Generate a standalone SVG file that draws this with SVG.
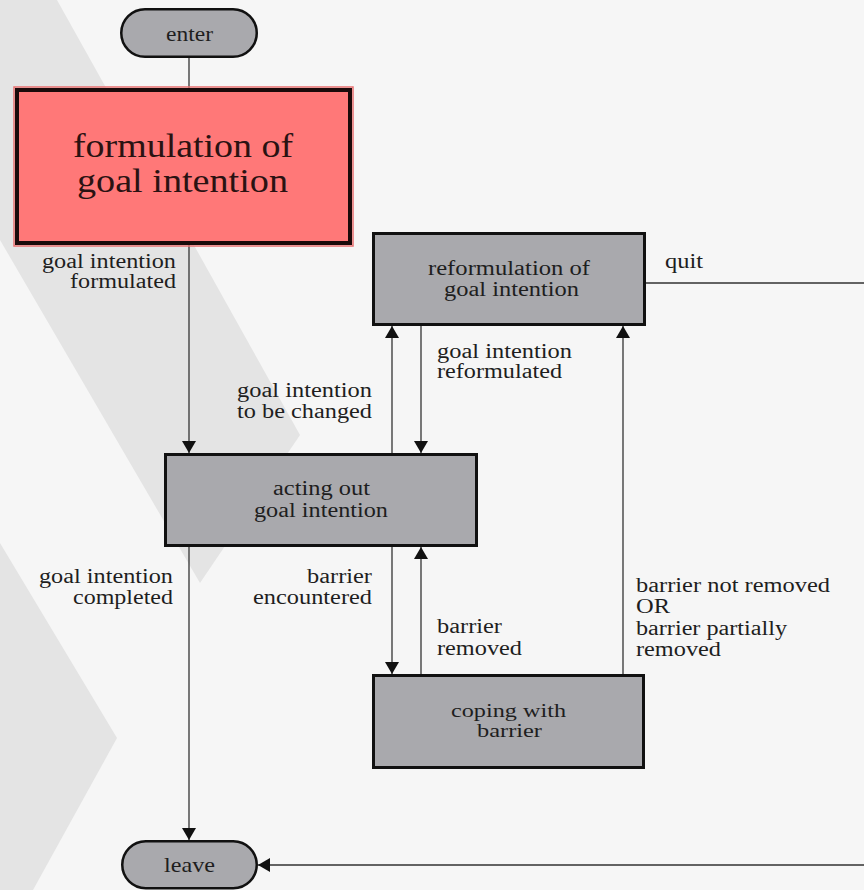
<svg xmlns="http://www.w3.org/2000/svg" width="864" height="890" viewBox="0 0 864 890" font-family="'Liberation Serif', Tinos, 'Times New Roman', Times, serif">
  <defs>
    <marker id="arrow" markerUnits="userSpaceOnUse" markerWidth="14" markerHeight="14" viewBox="0 0 12 14" refX="12" refY="7" orient="auto">
      <path d="M0,0 L12,7 L0,14 Z" fill="#111"/>
    </marker>
    <style>
      .bg { fill: #f6f6f6; }
      .deco { fill: #e4e4e4; }
      .state { fill: #a9a9ad; stroke: #111; stroke-width: 3; }
      .pill { fill: #a9a9ad; stroke: #111; stroke-width: 2.5; }
      .goal { fill: #ff7878; stroke: #1a0a0a; stroke-width: 4; }
      .wire { fill: none; stroke: #333; stroke-width: 1.3; }
      .arr { marker-end: url(#arrow); }
      text { font-family: 'Liberation Serif', Tinos, 'Times New Roman', Times, serif; font-size: 20px; fill: #1e1e1e; }
      .big { font-size: 34px; fill: #2a1212; }
      .term { font-size: 21px; }
      .tight { font-size: 19px; }
    </style>
  </defs>

  <!-- backdrop with decorative chevrons -->
  <rect class="bg" x="0" y="0" width="864" height="890"/>
  <polygon class="deco" points="0,0 57,0 300,435 200,583 0,240"/>
  <polygon class="deco" points="0,543 117,738 33,890 0,890"/>

  <!-- transitions -->
  <g id="connectors">
    <path class="wire" d="M189,58 V88"/>
    <path class="wire arr" d="M189,245 V453"/>
    <path class="wire arr" d="M392,453 V326"/>
    <path class="wire arr" d="M421,326 V453"/>
    <path class="wire arr" d="M392,547 V674"/>
    <path class="wire arr" d="M421,674 V547"/>
    <path class="wire arr" d="M623,674 V326"/>
    <path class="wire arr" d="M189,547 V840"/>
    <path class="wire arr" d="M646,283 H880 V865 H258"/>
  </g>

  <!-- transition labels -->
  <g id="labels">
    <text x="42" y="268" textLength="134" lengthAdjust="spacingAndGlyphs">goal intention</text>
    <text x="70" y="288" textLength="106" lengthAdjust="spacingAndGlyphs">formulated</text>
    <text x="665" y="268" textLength="38" lengthAdjust="spacingAndGlyphs">quit</text>
    <text x="437" y="358" textLength="135" lengthAdjust="spacingAndGlyphs">goal intention</text>
    <text x="437" y="378" textLength="125" lengthAdjust="spacingAndGlyphs">reformulated</text>
    <text x="237" y="397" textLength="135" lengthAdjust="spacingAndGlyphs">goal intention</text>
    <text x="237" y="418" textLength="135" lengthAdjust="spacingAndGlyphs">to be changed</text>
    <text x="39" y="583" textLength="134" lengthAdjust="spacingAndGlyphs">goal intention</text>
    <text x="73" y="604" textLength="100" lengthAdjust="spacingAndGlyphs">completed</text>
    <text x="307" y="583" textLength="65" lengthAdjust="spacingAndGlyphs">barrier</text>
    <text x="253" y="604" textLength="119" lengthAdjust="spacingAndGlyphs">encountered</text>
    <text x="437" y="633" textLength="65" lengthAdjust="spacingAndGlyphs">barrier</text>
    <text x="437" y="655" textLength="85" lengthAdjust="spacingAndGlyphs">removed</text>
    <text x="636" y="592" textLength="194" lengthAdjust="spacingAndGlyphs">barrier not removed</text>
    <text x="636" y="613" textLength="34" lengthAdjust="spacingAndGlyphs">OR</text>
    <text x="636" y="635" textLength="151" lengthAdjust="spacingAndGlyphs">barrier partially</text>
    <text x="636" y="656" textLength="85" lengthAdjust="spacingAndGlyphs">removed</text>
  </g>

  <g id="enter">
    <rect class="pill" x="121.25" y="9.25" width="135.5" height="47.5" rx="23.75"/>
    <text class="term" x="166" y="41" textLength="47" lengthAdjust="spacingAndGlyphs">enter</text>
  </g>

  <g id="formulation">
    <rect x="14" y="87" width="339" height="159" fill="none" stroke="#e87070" stroke-width="1.5"/>
    <rect class="goal" x="17" y="90" width="333" height="153"/>
    <text class="big" x="73" y="157" textLength="220" lengthAdjust="spacingAndGlyphs">formulation of</text>
    <text class="big" x="77" y="192" textLength="211" lengthAdjust="spacingAndGlyphs">goal intention</text>
  </g>

  <g id="reformulation">
    <rect class="state" x="373.5" y="233.5" width="271" height="91"/>
    <text x="428" y="275" textLength="162" lengthAdjust="spacingAndGlyphs">reformulation of</text>
    <text x="444" y="296" textLength="135" lengthAdjust="spacingAndGlyphs">goal intention</text>
  </g>

  <g id="acting">
    <rect class="state" x="165.5" y="454.5" width="311" height="91"/>
    <text x="273" y="495" textLength="97" lengthAdjust="spacingAndGlyphs">acting out</text>
    <text x="254" y="517" textLength="134" lengthAdjust="spacingAndGlyphs">goal intention</text>
  </g>

  <g id="coping">
    <rect class="state" x="373.5" y="675.5" width="270" height="92"/>
    <text class="tight" x="451" y="717" textLength="115" lengthAdjust="spacingAndGlyphs">coping with</text>
    <text class="tight" x="477" y="737" textLength="65" lengthAdjust="spacingAndGlyphs">barrier</text>
  </g>

  <g id="leave">
    <rect class="pill" x="122.25" y="841.25" width="134.5" height="47" rx="23.5"/>
    <text class="term" x="164" y="872" textLength="51" lengthAdjust="spacingAndGlyphs">leave</text>
  </g>
</svg>
